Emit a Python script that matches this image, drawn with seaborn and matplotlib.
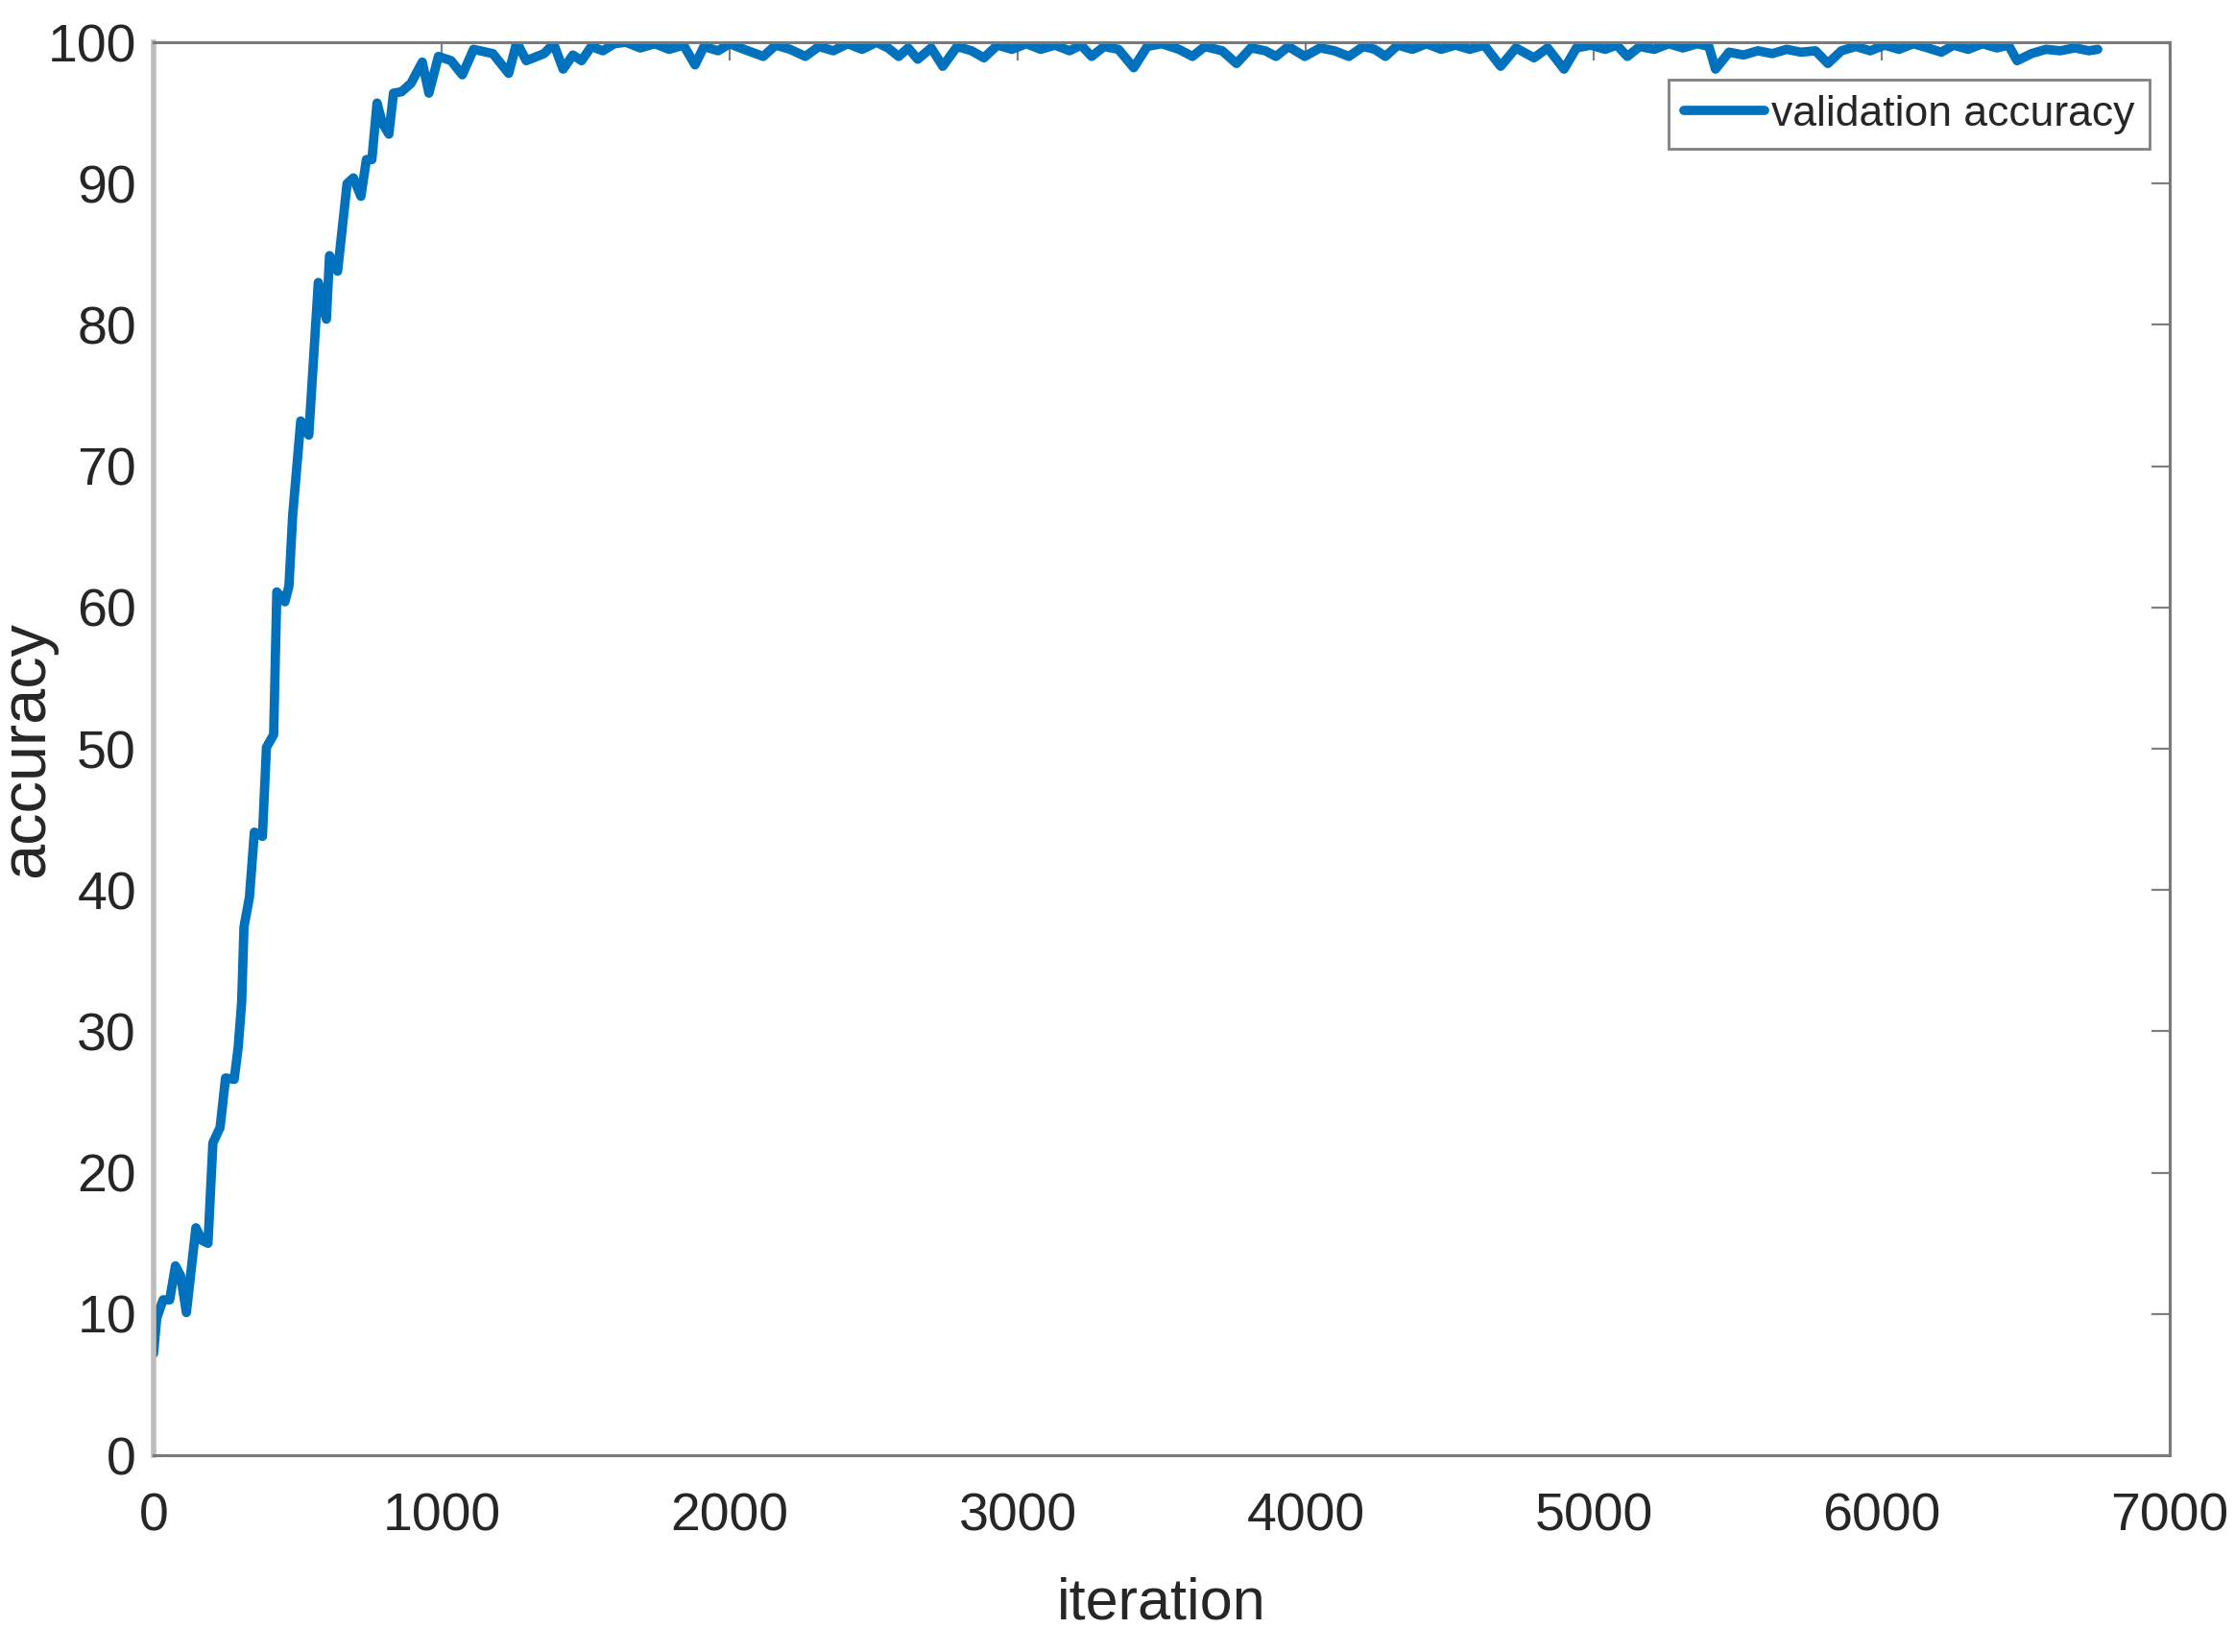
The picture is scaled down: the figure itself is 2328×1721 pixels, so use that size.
import matplotlib
matplotlib.use("Agg")
import matplotlib.pyplot as plt
import seaborn as sns

# validation accuracy
iteration = [0, 11, 33, 56, 76, 94, 114, 147, 169, 189, 206, 231, 250, 280, 294, 306, 314,
             333, 350, 378, 392, 417, 428, 456, 470, 483, 511, 539, 572, 600, 611, 639, 672,
             694, 720, 739, 758, 776, 794, 817, 833, 861, 894, 933, 956, 989, 1033, 1072,
             1111, 1178, 1233, 1261, 1294, 1356, 1389, 1422, 1456, 1486, 1520, 1560, 1600,
             1640, 1690, 1740, 1790, 1840, 1880, 1911, 1960, 2000, 2050, 2117, 2160, 2210,
             2263, 2310, 2360, 2410, 2460, 2510, 2550, 2587, 2620, 2653, 2700, 2740, 2790,
             2840, 2883, 2930, 2980, 3030, 3080, 3130, 3180, 3220, 3257, 3300, 3350, 3403,
             3450, 3500, 3560, 3607, 3650, 3710, 3760, 3810, 3860, 3897, 3940, 3997, 4050,
             4100, 4150, 4200, 4240, 4277, 4320, 4370, 4420, 4470, 4520, 4570, 4620, 4677,
             4730, 4793, 4840, 4897, 4940, 4990, 5040, 5080, 5117, 5160, 5210, 5260, 5310,
             5360, 5400, 5423, 5470, 5520, 5570, 5620, 5670, 5720, 5770, 5813, 5860, 5910,
             5960, 6010, 6060, 6110, 6160, 6207, 6250, 6300, 6350, 6400, 6440, 6470, 6520,
             6570, 6620, 6670, 6720, 6750]
accuracy = [7.2, 9.7, 11.0, 11.0, 13.4, 12.7, 10.1, 16.1, 15.2, 15.0, 22.1, 23.2, 26.7, 26.6,
            28.9, 32.1, 37.4, 39.5, 44.1, 43.8, 50.1, 51.0, 61.1, 60.4, 61.5, 66.5, 73.2,
            72.2, 83.0, 80.4, 84.9, 83.8, 90.0, 90.4, 89.1, 91.7, 91.7, 95.7, 94.3, 93.5,
            96.4, 96.5, 97.1, 98.6, 96.4, 99.0, 98.7, 97.7, 99.5, 99.2, 97.8, 100.0, 98.7,
            99.2, 99.9, 98.1, 99.1, 98.7, 99.7, 99.4, 99.9, 100.0, 99.6, 99.9, 99.5, 99.8,
            98.4, 99.7, 99.4, 99.9, 99.5, 99.0, 99.8, 99.5, 99.0, 99.7, 99.4, 99.9, 99.5,
            100.0, 99.6, 99.0, 99.6, 98.8, 99.6, 98.3, 99.7, 99.4, 98.9, 99.8, 99.5, 99.9,
            99.5, 99.8, 99.4, 99.8, 99.0, 99.7, 99.5, 98.2, 99.7, 99.9, 99.5, 99.0, 99.7,
            99.4, 98.5, 99.6, 99.4, 99.0, 99.7, 99.0, 99.6, 99.4, 99.0, 99.7, 99.5, 99.0,
            99.8, 99.5, 99.9, 99.5, 99.8, 99.5, 99.8, 98.3, 99.6, 98.9, 99.6, 98.1, 99.6,
            99.8, 99.5, 99.8, 99.0, 99.7, 99.5, 99.9, 99.6, 99.9, 99.7, 98.1, 99.3, 99.1,
            99.4, 99.2, 99.5, 99.3, 99.4, 98.5, 99.4, 99.7, 99.4, 99.8, 99.5, 99.9, 99.6,
            99.3, 99.8, 99.5, 99.9, 99.6, 99.8, 98.7, 99.2, 99.5, 99.4, 99.6, 99.4, 99.5]

x_ticks = [0, 1000, 2000, 3000, 4000, 5000, 6000, 7000]
y_ticks = [0, 10, 20, 30, 40, 50, 60, 70, 80, 90, 100]

sns.set_theme(style="white")
plt.rcParams["font.family"] = ["Liberation Sans", "DejaVu Sans"]

fig, ax = plt.subplots(figsize=(23.28, 17.21), dpi=100)
fig.subplots_adjust(left=0.0687, right=0.9708, top=0.9744, bottom=0.1191)

sns.lineplot(x=iteration, y=accuracy, ax=ax, color="#0072BD", linewidth=7,
             estimator=None, label="validation accuracy")

ax.set_xlim(0, 7000)
ax.set_ylim(0, 100)
ax.set_xticks(x_ticks)
ax.set_yticks(y_ticks)

ax.tick_params(axis="both", direction="in", length=14, width=1.6, color="#808080",
               labelcolor="#262626", labelsize=40, top=True, right=True)
ax.tick_params(axis="x", pad=28)
ax.tick_params(axis="y", pad=13)

for side in ["top", "right", "bottom"]:
    ax.spines[side].set_color("#7a7a7a")
    ax.spines[side].set_linewidth(2.2)
ax.spines["left"].set_color("#bdbdbd")
ax.spines["left"].set_linewidth(4)

ax.set_xlabel("iteration", fontsize=44, color="#262626")
ax.set_ylabel("accuracy", fontsize=48, color="#262626")
ax.xaxis.set_label_coords(0.5, -0.086)
ax.yaxis.set_label_coords(-0.048, 0.5)

leg = ax.legend(loc="upper right", bbox_to_anchor=(0.990, 0.9735), borderaxespad=0,
                fontsize=32, fancybox=False, framealpha=1, edgecolor="#808080",
                borderpad=0.35, handlelength=1.9, handletextpad=0.15)
leg.get_frame().set_linewidth(2)
for h in leg.get_lines():
    h.set_linewidth(7)

fig.savefig("out.png", dpi=100, facecolor="white")
